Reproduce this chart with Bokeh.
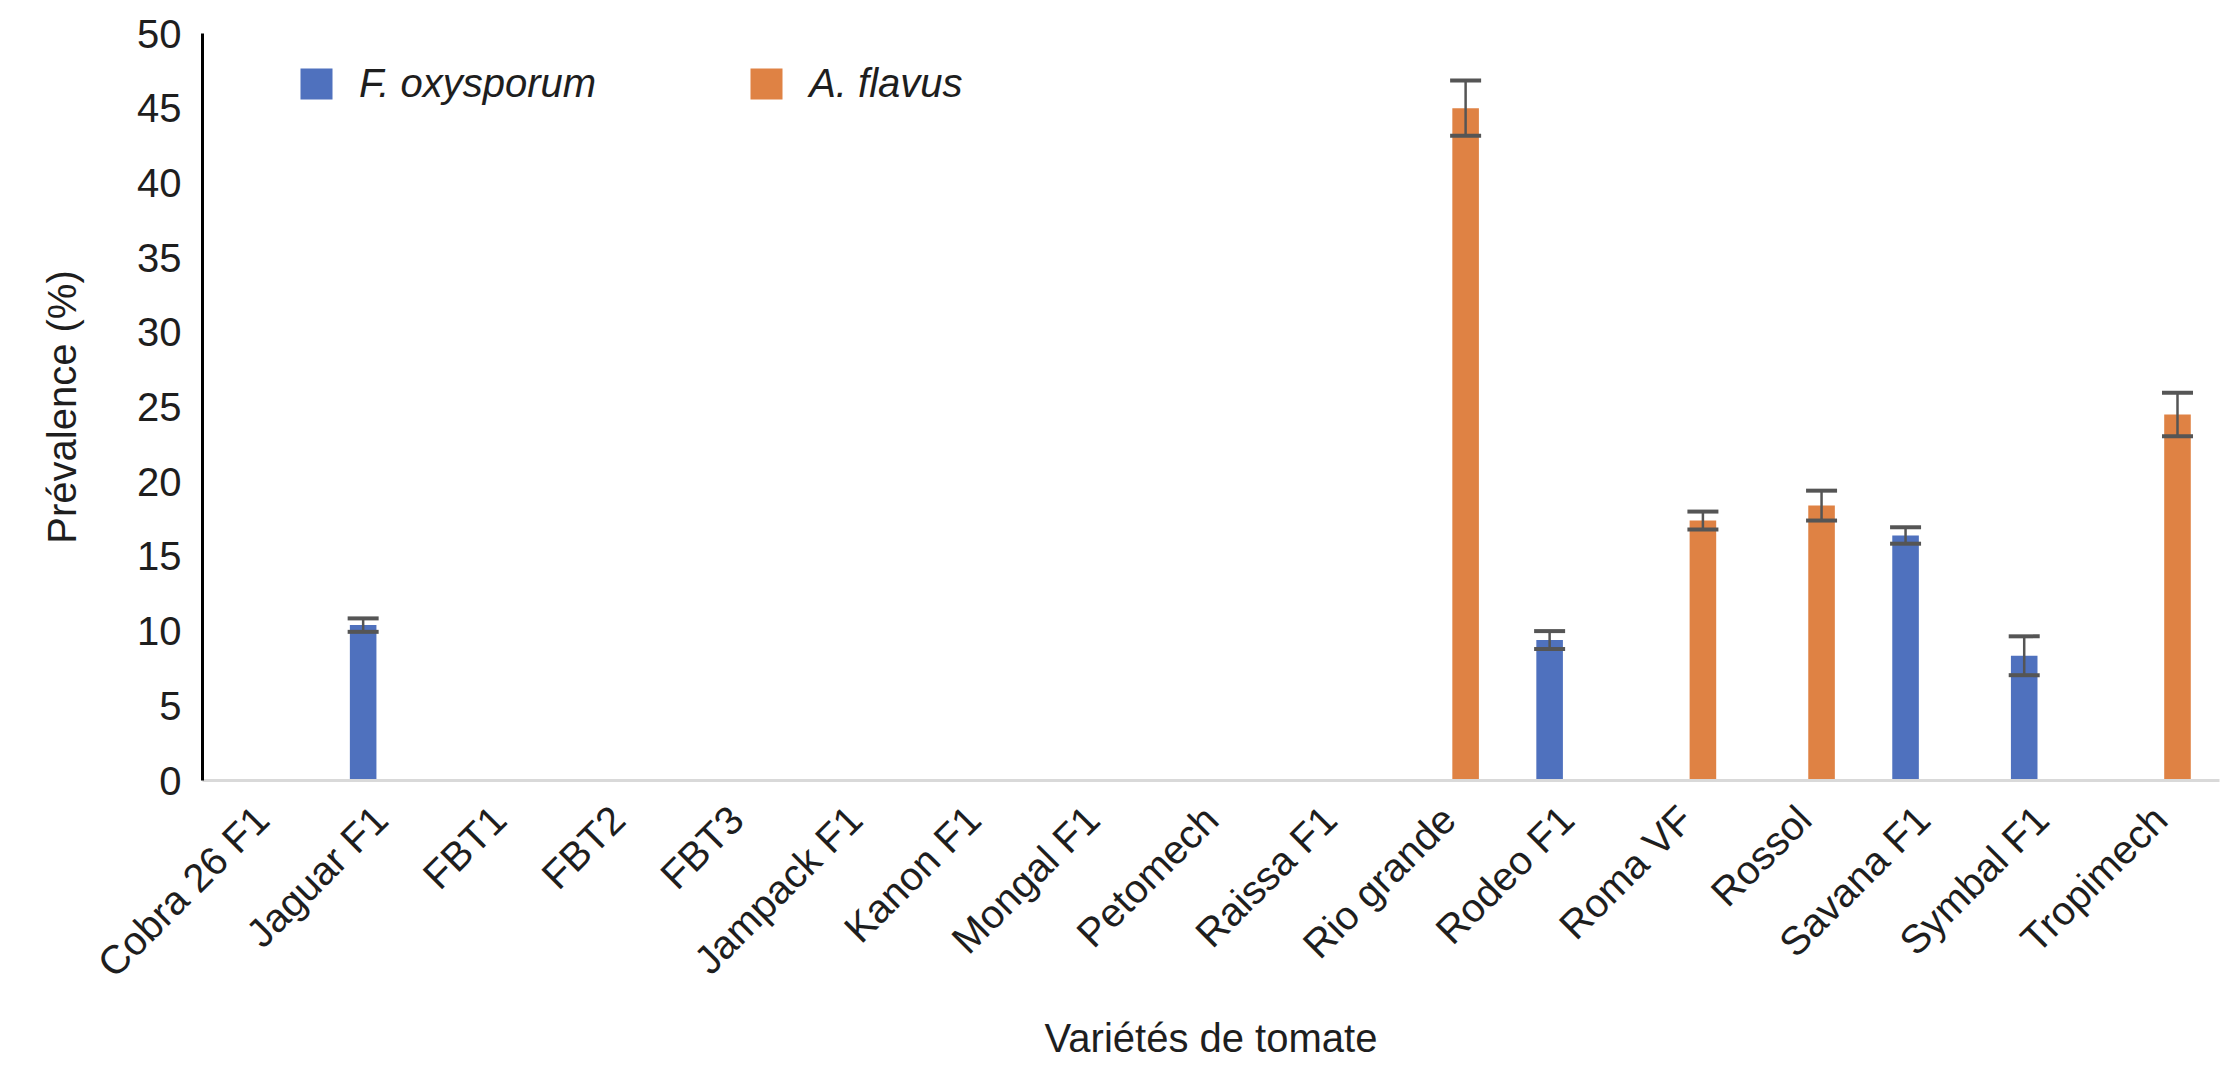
import math
from bokeh.plotting import figure
from bokeh.models import (ColumnDataSource, FactorRange, Range1d, Whisker, TeeHead,
                          Legend, LegendItem, SingleIntervalTicker)
from bokeh.transform import dodge
from bokeh.embed import file_html
from bokeh.resources import INLINE

categories = ["Cobra 26 F1", "Jaguar F1", "FBT1", "FBT2", "FBT3", "Jampack F1", "Kanon F1",
              "Mongal F1", "Petomech", "Raissa F1", "Rio grande", "Rodeo F1", "Roma VF",
              "Rossol", "Savana F1", "Symbal F1", "Tropimech"]
fox_values = [0, 10.4, 0, 0, 0, 0, 0, 0, 0, 0, 0, 9.4, 0, 0, 16.4, 8.35, 0]
fox_errors = [0, 0.45, 0, 0, 0, 0, 0, 0, 0, 0, 0, 0.6, 0, 0, 0.55, 1.3, 0]
afl_values = [0, 0, 0, 0, 0, 0, 0, 0, 0, 0, 45.0, 0, 17.4, 18.4, 0, 0, 24.5]
afl_errors = [0, 0, 0, 0, 0, 0, 0, 0, 0, 0, 1.85, 0, 0.6, 1.0, 0, 0, 1.45]
series_names = ["F. oxysporum", "A. flavus"]
colors = ["#4F71BE", "#DF8244"]
y_ticks_interval = 5

FONT = "Liberation Sans"
TXT = "#1e1e1e"

p = figure(x_range=FactorRange(*categories, range_padding=0), y_range=Range1d(0, 50),
           width=2226, height=1068, output_backend="svg", toolbar_location=None,
           min_border_left=202, min_border_right=7, min_border_top=33, min_border_bottom=288)
p.outline_line_color = None
p.xgrid.grid_line_color = None
p.ygrid.grid_line_color = None
p.background_fill_color = "white"
p.border_fill_color = "white"

src_f = ColumnDataSource(dict(cat=categories, top=fox_values))
src_a = ColumnDataSource(dict(cat=categories, top=afl_values))
off = 0.146
bw = 0.224
r1 = p.vbar(x=dodge("cat", -off, range=p.x_range), top="top", width=bw, source=src_f,
            fill_color=colors[0], line_color=None)
r2 = p.vbar(x=dodge("cat", off, range=p.x_range), top="top", width=bw, source=src_a,
            fill_color=colors[1], line_color=None)

def err_source(vals, errs):
    c = [categories[i] for i in range(len(categories)) if errs[i] > 0]
    lo = [vals[i] - errs[i] for i in range(len(categories)) if errs[i] > 0]
    hi = [vals[i] + errs[i] for i in range(len(categories)) if errs[i] > 0]
    return ColumnDataSource(dict(cat=c, lower=lo, upper=hi))

for vals, errs, o in [(fox_values, fox_errors, -off), (afl_values, afl_errors, off)]:
    s = err_source(vals, errs)
    w = Whisker(base=dodge("cat", o, range=p.x_range), lower="lower", upper="upper", source=s,
                line_color="#555555", line_width=2.5, level="overlay",
                upper_head=TeeHead(size=31, line_color="#555555", line_width=4),
                lower_head=TeeHead(size=31, line_color="#555555", line_width=4))
    p.add_layout(w)

# y axis
ya = p.yaxis[0]
ya.ticker = SingleIntervalTicker(interval=y_ticks_interval)
ya.axis_line_color = "black"
ya.axis_line_width = 3
ya.major_tick_line_color = None
ya.minor_tick_line_color = None
ya.major_tick_out = 0
ya.major_label_standoff = 17
ya.major_label_text_font = FONT
ya.major_label_text_font_size = "40px"
ya.major_label_text_color = TXT
ya.axis_label = "Prévalence (%)"
ya.axis_label_text_font = FONT
ya.axis_label_text_font_size = "40px"
ya.axis_label_text_font_style = "normal"
ya.axis_label_text_color = TXT
ya.axis_label_standoff = 50

# x axis
xa = p.xaxis[0]
xa.axis_line_color = "#D9D9D9"
xa.axis_line_width = 3
xa.major_tick_line_color = None
xa.minor_tick_line_color = None
xa.major_tick_out = 0
xa.major_label_orientation = math.pi / 4
xa.major_label_standoff = 32
xa.major_label_text_font = FONT
xa.major_label_text_font_size = "40px"
xa.major_label_text_color = TXT
xa.axis_label = "Variétés de tomate"
xa.axis_label_text_font = FONT
xa.axis_label_text_font_size = "40px"
xa.axis_label_text_font_style = "normal"
xa.axis_label_text_color = TXT
xa.axis_label_standoff = 12

legend = Legend(items=[LegendItem(label=series_names[0], renderers=[r1]),
                       LegendItem(label=series_names[1], renderers=[r2])],
                orientation="horizontal", location=(94, 674),
                glyph_width=40, glyph_height=39, label_height=39, label_standoff=23,
                spacing=150, padding=0, margin=0,
                border_line_alpha=0, background_fill_alpha=0,
                label_text_font=FONT, label_text_font_size="40px",
                label_text_font_style="italic", label_text_color=TXT)
p.add_layout(legend)

open("out.html", "w").write(file_html(p, INLINE))
